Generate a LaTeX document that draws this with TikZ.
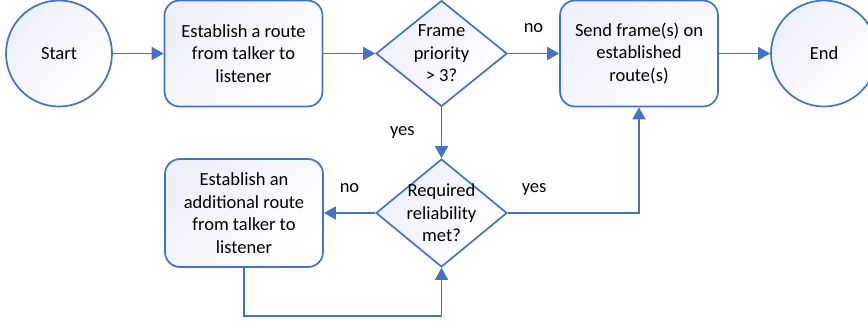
\documentclass[tikz,border=0pt]{standalone}
\usepackage{fontspec}
\setmainfont{Carlito}
\usetikzlibrary{shapes.geometric,arrows.meta}
\definecolor{flowblue}{RGB}{68,114,196}
\definecolor{lavshade}{RGB}{238,240,250}

\begin{document}
\begin{tikzpicture}[x=1pt,y=-1pt,
            every node/.style={font=\fontsize{18.5}{22.5}\selectfont},
            fillshade/.style={draw=flowblue, line width=1.7pt, top color=lavshade, bottom color=white, shading angle=45},
            termnode/.style={fillshade, circle, minimum size=106pt, inner sep=0pt},
            procbox/.style={fillshade, rectangle, rounded corners=15pt, minimum width=158pt, minimum height=106pt, align=center, inner sep=0pt},
            decbox/.style={fillshade, diamond, minimum width=131pt, minimum height=106pt, inner sep=0pt},
            flowline/.style={draw=flowblue, line width=1.7pt, -{Triangle[length=12pt,width=13pt]}},
            lbl/.style={inner sep=0pt}]
            \useasboundingbox (0,0) rectangle (868,322);
            \node[termnode] (start) at (59,53.5) {Start};
            \node[procbox] (est) at (243.5,53.5) {Establish a route\\from talker to\\listener};
            \node[decbox, label={[align=center]center:Frame\\priority\\ > 3?}] (prio) at (441.5,53.5) {};
            \node[procbox] (send) at (639,53.5) {Send frame(s) on\\established\\route(s)};
            \node[termnode] (end) at (824,53.5) {End};
            \node[procbox, minimum height=108pt] (add) at (244,213) {Establish an\\additional route\\from talker to\\listener};
            \node[decbox, minimum height=108pt, label={[align=center]center:Required\\reliability\\met?}] (rel) at (441.5,213) {};
            \coordinate (loop) at (244,316);
            \draw[flowline] (start) -- (est);
            \draw[flowline] (est) -- (prio);
            \draw[flowline] (prio) -- node[lbl,above=20pt]{no} (send);
            \draw[flowline] (send) -- (end);
            \draw[flowline] (prio) -- node[lbl,left=26pt]{yes} (rel);
            \draw[flowline] (rel) -- node[lbl,above=20pt]{no} (add);
            \draw[flowline] (rel) -| node[lbl,pos=0.1,above=17pt]{yes} (send);
            \draw[flowline] (add.south) -- (loop) -| (rel.south);
        \end{tikzpicture}
\end{document}
